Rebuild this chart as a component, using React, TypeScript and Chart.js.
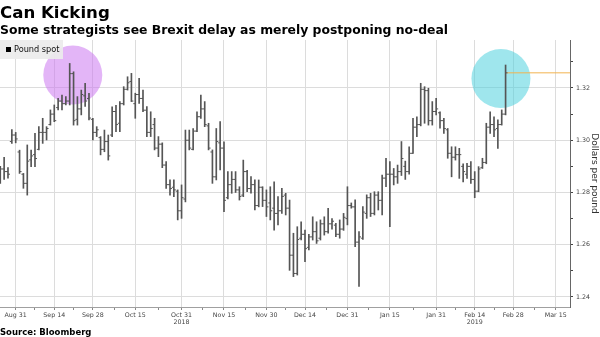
import React, { useEffect, useRef } from 'react';
import { Chart, registerables } from 'chart.js';

Chart.register(...registerables);

// ---- data ----
const firstBarDate = '2018-08-27';
const opens = [
  1.2850, 1.2890, 1.2880, 1.2995, 1.3020, 1.2955, 1.2870, 1.2835, 1.2925, 1.2945,
  1.2965, 1.3030, 1.3030, 1.3060, 1.3100, 1.3125, 1.3150, 1.3140, 1.3150, 1.3255,
  1.3080, 1.3120, 1.3170, 1.3160, 1.3080, 1.3030, 1.3010, 1.2965, 1.2995, 1.3020,
  1.3110, 1.3065, 1.3140, 1.3195, 1.3225, 1.3140, 1.3175, 1.3160, 1.3115, 1.3030,
  1.3060, 1.2970, 1.2985, 1.2905, 1.2830, 1.2820, 1.2805, 1.2730, 1.2775, 1.3000,
  1.2965, 1.3035, 1.3090, 1.3120, 1.3055, 1.2955, 1.2860, 1.2990, 1.2970, 1.2780,
  1.2830, 1.2850, 1.2810, 1.2790, 1.2880, 1.2815, 1.2830, 1.2750, 1.2820, 1.2770,
  1.2760, 1.2740, 1.2720, 1.2730, 1.2790, 1.2740, 1.2560, 1.2490, 1.2625, 1.2640,
  1.2590, 1.2630, 1.2650, 1.2625, 1.2680, 1.2650, 1.2680, 1.2675, 1.2640, 1.2660,
  1.2700, 1.2750, 1.2745, 1.2610, 1.2625, 1.2720, 1.2780, 1.2720, 1.2790, 1.2770,
  1.2855, 1.2870, 1.2870, 1.2860, 1.2880, 1.2900, 1.2880, 1.2950, 1.3050, 1.3060,
  1.3195, 1.3190, 1.3075, 1.3110, 1.3105, 1.3075, 1.3040, 1.2950, 1.2935, 1.2945,
  1.2900, 1.2870, 1.2900, 1.2850, 1.2805, 1.2895, 1.2915, 1.3050, 1.3060, 1.3045,
  1.3060, 1.3100,
];
const highs = [
  1.2900, 1.2935, 1.2895, 1.3041, 1.3030, 1.2962, 1.2873, 1.2982, 1.2962, 1.3026,
  1.3052, 1.3084, 1.3052, 1.3116, 1.3135, 1.3160, 1.3173, 1.3167, 1.3294, 1.3262,
  1.3167, 1.3192, 1.3218, 1.3180, 1.3084, 1.3052, 1.3014, 1.3039, 1.3020, 1.3128,
  1.3134, 1.3148, 1.3205, 1.3243, 1.3256, 1.3180, 1.3237, 1.3192, 1.3129, 1.3109,
  1.3084, 1.3014, 1.2990, 1.2918, 1.2848, 1.2848, 1.2810, 1.2829, 1.3039, 1.3039,
  1.3045, 1.3109, 1.3173, 1.3148, 1.3065, 1.2963, 1.3045, 1.3071, 1.2994, 1.2880,
  1.2880, 1.2880, 1.2822, 1.2924, 1.2885, 1.2861, 1.2848, 1.2848, 1.2822, 1.2810,
  1.2822, 1.2841, 1.2784, 1.2816, 1.2797, 1.2771, 1.2644, 1.2669, 1.2688, 1.2656,
  1.2640, 1.2707, 1.2688, 1.2695, 1.2707, 1.2739, 1.2700, 1.2682, 1.2695, 1.2720,
  1.2822, 1.2760, 1.2772, 1.2650, 1.2746, 1.2791, 1.2797, 1.2803, 1.2803, 1.2867,
  1.2931, 1.2918, 1.2892, 1.2905, 1.2995, 1.2920, 1.2975, 1.3084, 1.3090, 1.3218,
  1.3205, 1.3199, 1.3148, 1.3160, 1.3109, 1.3084, 1.3045, 1.2975, 1.2975, 1.2969,
  1.2910, 1.2912, 1.2918, 1.2880, 1.2899, 1.2931, 1.3065, 1.3109, 1.3090, 1.3078,
  1.3116, 1.3288,
];
const lows = [
  1.2835, 1.2850, 1.2855, 1.2988, 1.2990, 1.2873, 1.2816, 1.2790, 1.2899, 1.2899,
  1.2963, 1.2988, 1.3001, 1.3058, 1.3071, 1.3116, 1.3116, 1.3135, 1.3135, 1.3058,
  1.3058, 1.3097, 1.3129, 1.3078, 1.3001, 1.3014, 1.2944, 1.2956, 1.2924, 1.3014,
  1.3033, 1.3033, 1.3135, 1.3192, 1.3148, 1.3084, 1.3141, 1.3109, 1.3014, 1.3014,
  1.2963, 1.2937, 1.2895, 1.2816, 1.2790, 1.2784, 1.2695, 1.2701, 1.2764, 1.2963,
  1.2963, 1.3033, 1.3084, 1.3052, 1.2963, 1.2835, 1.2848, 1.2886, 1.2727, 1.2775,
  1.2797, 1.2800, 1.2771, 1.2784, 1.2803, 1.2797, 1.2733, 1.2745, 1.2746, 1.2708,
  1.2695, 1.2656, 1.2676, 1.2720, 1.2714, 1.2502, 1.2478, 1.2484, 1.2618, 1.2535,
  1.2580, 1.2618, 1.2605, 1.2618, 1.2637, 1.2644, 1.2660, 1.2631, 1.2625, 1.2655,
  1.2676, 1.2740, 1.2593, 1.2440, 1.2620, 1.2701, 1.2708, 1.2714, 1.2733, 1.2714,
  1.2822, 1.2669, 1.2829, 1.2835, 1.2865, 1.2850, 1.2870, 1.2950, 1.3014, 1.3055,
  1.3065, 1.3058, 1.3058, 1.3097, 1.3046, 1.3026, 1.2931, 1.2860, 1.2924, 1.2854,
  1.2840, 1.2854, 1.2835, 1.2780, 1.2803, 1.2892, 1.2910, 1.3026, 1.3014, 1.2969,
  1.3058, 1.3097,
];
const closes = [
  1.2890, 1.2880, 1.2870, 1.3020, 1.3005, 1.2880, 1.2835, 1.2920, 1.2940, 1.2930,
  1.3030, 1.3030, 1.3045, 1.3100, 1.3075, 1.3150, 1.3140, 1.3150, 1.3255, 1.3075,
  1.3120, 1.3175, 1.3150, 1.3085, 1.3030, 1.3040, 1.2965, 1.2995, 1.2940, 1.3110,
  1.3060, 1.3140, 1.3195, 1.3220, 1.3150, 1.3175, 1.3160, 1.3115, 1.3030, 1.3045,
  1.2970, 1.2985, 1.2905, 1.2830, 1.2815, 1.2810, 1.2730, 1.2780, 1.3000, 1.2970,
  1.3035, 1.3090, 1.3120, 1.3060, 1.2970, 1.2860, 1.2995, 1.2970, 1.2770, 1.2830,
  1.2850, 1.2810, 1.2785, 1.2880, 1.2815, 1.2830, 1.2750, 1.2820, 1.2770, 1.2745,
  1.2730, 1.2720, 1.2730, 1.2785, 1.2740, 1.2560, 1.2490, 1.2620, 1.2640, 1.2585,
  1.2630, 1.2650, 1.2615, 1.2680, 1.2650, 1.2680, 1.2690, 1.2640, 1.2660, 1.2705,
  1.2750, 1.2745, 1.2610, 1.2630, 1.2725, 1.2780, 1.2720, 1.2790, 1.2770, 1.2855,
  1.2870, 1.2870, 1.2860, 1.2880, 1.2930, 1.2880, 1.2950, 1.3050, 1.3060, 1.3195,
  1.3190, 1.3075, 1.3110, 1.3120, 1.3075, 1.3045, 1.2950, 1.2935, 1.2945, 1.2945,
  1.2880, 1.2900, 1.2850, 1.2805, 1.2890, 1.2915, 1.3050, 1.3060, 1.3040, 1.3060,
  1.3100, 1.3258,
];

const xTickDates = [
  '2018-08-31', '2018-09-14', '2018-09-28', '2018-10-15', '2018-10-31', '2018-11-15',
  '2018-11-30', '2018-12-14', '2018-12-31', '2019-01-15', '2019-01-31', '2019-02-14',
  '2019-02-28', '2019-03-15',
];
const xTickLabels = [
  'Aug 31', 'Sep 14', 'Sep 28', 'Oct 15', 'Oct 31', 'Nov 15', 'Nov 30', 'Dec 14',
  'Dec 31', 'Jan 15', 'Jan 31', 'Feb 14', 'Feb 28', 'Mar 15',
];
const xYearLabels = ['', '', '', '', '2018', '', '', '', '', '', '', '2019', '', ''];
const yTickValues = [1.24, 1.25, 1.26, 1.27, 1.28, 1.29, 1.30, 1.31, 1.32, 1.33];

// highlighted zones: centre (trading-day number from Aug 31, 2018) and level
const circleDays = [14.8, 125.8];
const circleLevels = [1.3250, 1.3236];
const circleColors = ['rgba(204,120,240,0.55)', 'rgba(80,210,222,0.55)'];

const X_MIN = -4.07;
const X_MAX = 143.7;
const Y_MIN = 1.23617;
const Y_MAX = 1.33837;

// trading-day index (weekdays) relative to Fri Aug 31, 2018
const BASE = Date.UTC(2018, 7, 31);
function weekdayIndex(iso: string): number {
  const t = Date.parse(iso + 'T00:00:00Z');
  const days = Math.round((t - BASE) / 86400000);
  const weeks = Math.floor(days / 7);
  const rem = days - weeks * 7;
  const wd = [0, 0, 0, 1, 2, 3, 4][rem];
  return weeks * 5 + wd;
}

const FONT = "'DejaVu Sans', Verdana, sans-serif";

export default function App() {
  const ref = useRef<HTMLCanvasElement | null>(null);

  useEffect(() => {
    const canvas = ref.current;
    if (!canvas) return;
    const start = weekdayIndex(firstBarDate);
    const xs = opens.map((_, k) => start + k);
    const majorX = xTickDates.map(weekdayIndex);
    const minorX: number[] = [];
    for (let k = 0; k < majorX.length - 1; k++) minorX.push((majorX[k] + majorX[k + 1]) / 2);
    const allX = [...majorX, ...minorX].sort((a, b) => a - b);
    const lastX = xs[xs.length - 1];
    const lastC = closes[closes.length - 1];
    const barColor = '#555555';

    const chart = new Chart(canvas, {
      type: 'bar',
      data: {
        datasets: [
          {
            type: 'bar',
            label: 'Pound spot',
            data: xs.map((x, k) => ({ x, y: [lows[k], highs[k]] })) as any,
            backgroundColor: barColor,
            borderWidth: 0,
            barThickness: 1,
            grouped: false,
            order: 2,
          } as any,
          {
            type: 'scatter',
            label: 'open',
            data: xs.map((x, k) => ({ x, y: opens[k] })),
            pointStyle: 'dash',
            rotation: 180,
            radius: 2,
            borderColor: barColor,
            borderWidth: 1,
            order: 1,
          } as any,
          {
            type: 'scatter',
            label: 'close',
            data: xs.map((x, k) => ({ x, y: closes[k] })),
            pointStyle: 'dash',
            rotation: 0,
            radius: 2,
            borderColor: barColor,
            borderWidth: 1,
            order: 1,
          } as any,
          {
            type: 'line',
            label: 'last',
            data: [
              { x: lastX, y: lastC },
              { x: X_MAX, y: lastC },
            ],
            borderColor: '#f2b450',
            borderWidth: 1,
            pointRadius: 0,
            order: 3,
          } as any,
          {
            type: 'bubble',
            label: 'zones',
            data: circleDays.map((d, k) => ({ x: d, y: circleLevels[k], r: 29.5 })),
            backgroundColor: circleColors,
            borderWidth: 0,
            order: 10,
          } as any,
        ],
      },
      options: {
        responsive: false,
        animation: false,
        events: [],
        layout: { autoPadding: false, padding: { top: 40, left: 0, right: 0, bottom: 0 } },
        plugins: {
          legend: { display: false },
          tooltip: { enabled: false },
          title: { display: false },
        },
        scales: {
          x: {
            type: 'linear',
            position: 'bottom',
            offset: false,
            min: X_MIN,
            max: X_MAX,
            afterBuildTicks: (scale: any) => {
              scale.ticks = allX.map((v) => ({ value: v }));
            },
            afterFit: (scale: any) => {
              scale.height = 30;
              scale.paddingLeft = 0;
              scale.paddingRight = 0;
            },
            ticks: {
              autoSkip: false,
              maxRotation: 0,
              minRotation: 0,
              padding: 1,
              color: '#444',
              font: { family: FONT, size: 6.3, lineHeight: 1.25 },
              callback: (v: any) => {
                const i = majorX.indexOf(Number(v));
                if (i < 0) return '';
                return xYearLabels[i] ? [xTickLabels[i], xYearLabels[i]] : xTickLabels[i];
              },
            },
            grid: {
              offset: false,
              color: (ctx: any) =>
                ctx.tick && majorX.indexOf(ctx.tick.value) >= 0 ? '#dcdcdc' : 'rgba(0,0,0,0)',
              tickColor: '#888',
              tickLength: 3,
              lineWidth: 1,
            },
            border: { display: true, color: '#a0a0a0' },
          },
          y: {
            type: 'linear',
            position: 'right',
            min: Y_MIN,
            max: Y_MAX,
            afterBuildTicks: (scale: any) => {
              scale.ticks = yTickValues.map((v) => ({ value: v }));
            },
            afterFit: (scale: any) => {
              scale.width = 30;
              scale.paddingTop = 0;
              scale.paddingBottom = 0;
            },
            ticks: {
              autoSkip: false,
              padding: 3,
              color: '#444',
              font: { family: FONT, size: 6.3 },
              callback: (v: any) => (Math.round(Number(v) * 100) % 2 === 0 ? Number(v).toFixed(2) : ''),
            },
            grid: {
              color: (ctx: any) =>
                ctx.tick && Math.round(ctx.tick.value * 100) % 2 === 0 ? '#dcdcdc' : 'rgba(0,0,0,0)',
              tickColor: '#444',
              tickLength: 3,
            },
            border: { display: true, color: '#666' },
            title: {
              display: true,
              text: 'Dollars per pound',
              color: '#333',
              font: { family: FONT, size: 9 },
              padding: { top: 0, bottom: 0 },
            },
          },
        },
      } as any,
    });
    return () => chart.destroy();
  }, []);

  return (
    <div style={{ position: 'fixed', left: 0, top: 0, width: 600, height: 337, background: '#fff', overflow: 'hidden' }}>
      <canvas ref={ref} width={600} height={337} style={{ position: 'absolute', left: 0, top: 0, width: 600, height: 337 }} />
      <div style={{ position: 'absolute', left: 0, top: 4, font: `bold 16.6px ${FONT}`, lineHeight: '17px', color: '#000', whiteSpace: 'nowrap' }}>
        Can Kicking
      </div>
      <div style={{ position: 'absolute', left: 0, top: 23.5, font: `bold 12.4px ${FONT}`, lineHeight: '12.4px', color: '#000', whiteSpace: 'nowrap' }}>
        Some strategists see Brexit delay as merely postponing no-deal
      </div>
      <div style={{ position: 'absolute', left: 0, top: 40, width: 63, height: 19, background: 'rgba(236,236,236,0.92)' }}>
        <div style={{ position: 'absolute', left: 6, top: 7, width: 5, height: 5, background: '#000' }} />
        <div style={{ position: 'absolute', left: 14, top: 4, font: `8.2px ${FONT}`, lineHeight: '10px', color: '#111', whiteSpace: 'nowrap' }}>
          Pound spot
        </div>
      </div>
      <div style={{ position: 'absolute', left: 0, top: 327.5, font: `bold 8.5px ${FONT}`, lineHeight: '9px', color: '#000', whiteSpace: 'nowrap' }}>
        Source: Bloomberg
      </div>
    </div>
  );
}
